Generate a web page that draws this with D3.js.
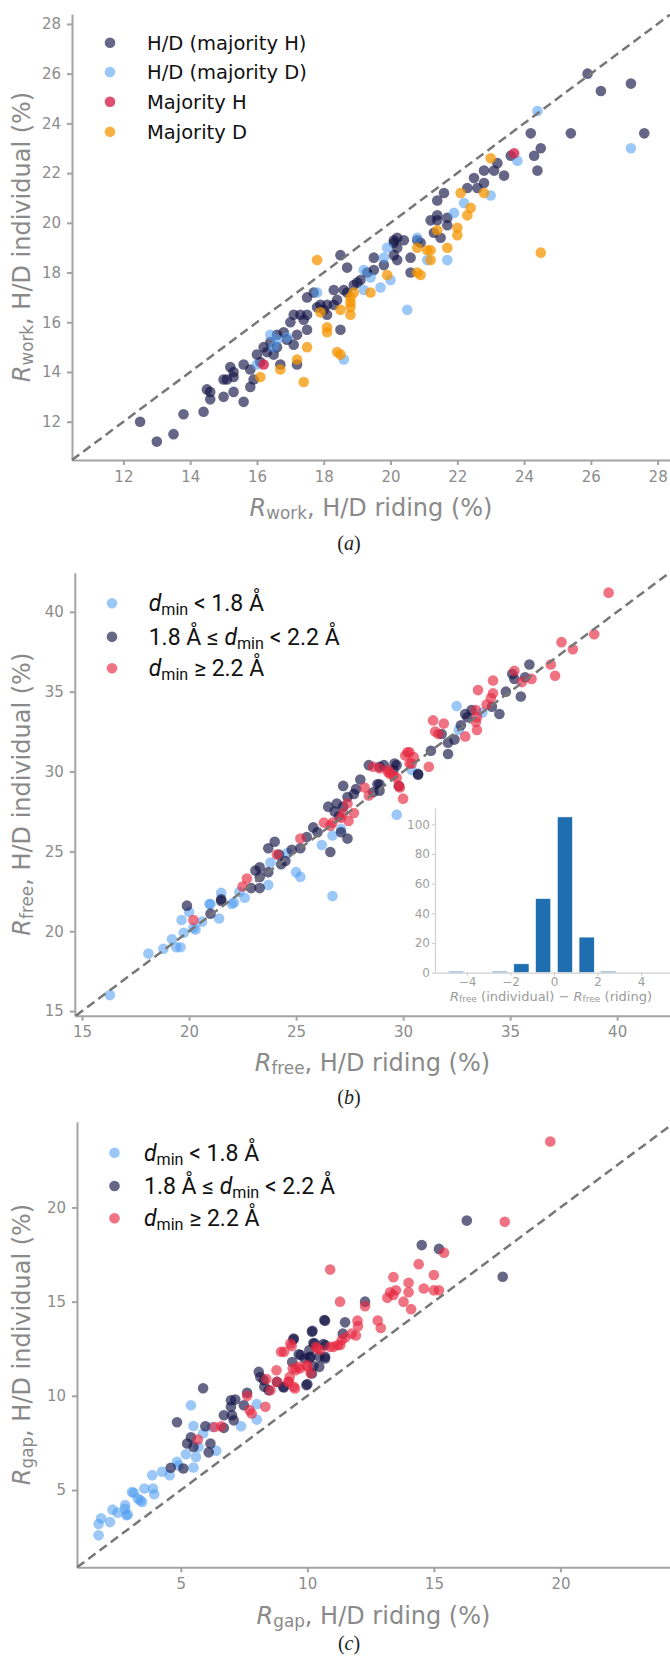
<!DOCTYPE html>
<meta charset="utf-8">
<head>
  <title>H/D riding vs individual</title>
</head>
<style>
body { margin: 0; background: #fff; }
text { white-space: pre; }
.axis path, .axis line { stroke: #a3a3a3; stroke-width: 2px; }
.axis text { fill: #8c8c8c; font-family: "DejaVu Sans", sans-serif; font-size: 15px; }
.inset path, .inset line { stroke: #cfcfcf; stroke-width: 1.2px; }
.inset text { fill: #a0a0a0; font-family: "DejaVu Sans", sans-serif; font-size: 12px; }
.diag { stroke: #777; stroke-width: 2.5px; stroke-dasharray: 9 5; fill: none; }
.alabel { fill: #8a8a8a; font-family: "DejaVu Sans", sans-serif; font-size: 24px; }
.legA { fill: #111; font-family: "DejaVu Sans", sans-serif; font-size: 19.5px; }
.legB { fill: #111; font-family: Roboto, sans-serif; font-size: 23px; }
.caption { fill: #222; font-family: "Liberation Serif", serif; font-size: 20px; }
</style>
<body>
  <svg width="670" height="1658"></svg>
  <script src="https://cdnjs.cloudflare.com/ajax/libs/d3/7.8.5/d3.min.js"></script>
  <script>
// ---- panel (a): R_work ----
var aTicks = [12, 14, 16, 18, 20, 22, 24, 26, 28];
var aMajH = [[12.5,12.0],[13.0,11.2],[13.5,11.5],[13.8,12.3],[14.4,12.4],[14.5,13.3],[14.6,12.9],[14.6,13.2],[15.0,13.0],[15.0,13.7],[15.1,13.7],[15.2,14.2],[15.3,14.0],[15.3,13.8],[15.3,13.2],[15.6,12.8],[15.6,14.3],[15.8,13.4],[15.9,13.7],[15.8,14.1],[16.0,14.7],[16.1,14.4],[16.3,14.8],[16.4,15.2],[16.5,14.7],[16.7,14.3],[16.8,15.6],[17.0,16.0],[17.1,15.1],[17.2,15.5],[17.2,14.3],[17.3,16.3],[17.5,16.3],[17.5,15.7],[17.5,17.0],[17.7,17.2],[17.9,16.7],[18.1,16.7],[18.1,16.3],[18.3,16.7],[18.5,18.7],[18.7,18.2],[18.3,17.3],[18.5,15.7],[18.7,17.2],[18.9,17.5],[19.1,17.7],[19.5,18.6],[19.5,18.1],[19.8,18.3],[20.1,19.2],[20.2,19.0],[20.1,18.7],[20.2,18.5],[20.2,19.4],[20.4,19.3],[20.1,19.3],[20.6,18.6],[20.6,18.0],[20.8,19.3],[20.9,19.2],[21.2,20.1],[21.4,20.3],[21.4,20.1],[21.7,20.2],[21.7,19.9],[21.3,19.6],[21.5,19.4],[21.4,20.9],[21.6,21.2],[22.3,21.4],[22.6,21.4],[22.8,21.6],[22.5,21.8],[22.8,22.1],[23.1,22.1],[23.2,22.4],[23.4,21.9],[23.6,22.7],[24.2,23.6],[24.5,23.0],[24.3,22.7],[24.4,22.1],[25.4,23.6],[25.9,26.0],[26.3,25.3],[27.2,25.6],[27.6,23.6],[16.6,15.0],[16.9,15.3],[17.1,16.3],[17.8,16.6],[18.0,16.5],[18.4,16.9],[18.6,17.3],[19.0,17.6],[19.3,18.0],[16.2,15.0],[16.6,15.5],[17.4,16.1]];
var aMajDmix = [[16.0,14.3],[16.4,15.5],[16.5,15.0],[16.9,15.4],[17.8,17.2],[18.6,14.5],[19.2,18.1],[19.2,17.3],[19.7,17.4],[19.8,18.6],[20.0,17.7],[19.9,19.0],[20.5,16.5],[20.8,19.4],[21.1,18.5],[21.7,18.5],[21.9,20.4],[22.2,20.8],[23.0,21.1],[23.8,22.5],[24.4,24.5],[27.2,23.0],[19.4,17.8],[16.6,15.3]];
var aOnlyH = [[16.2,14.3],[23.7,22.8]];
var aOnlyD = [[16.1,13.8],[16.7,14.1],[17.2,14.5],[17.4,13.6],[17.5,15.0],[17.8,18.5],[17.9,16.4],[18.1,15.8],[18.1,15.6],[18.5,16.5],[18.4,14.8],[18.5,14.7],[18.8,17.0],[18.8,16.8],[18.8,16.6],[18.8,16.3],[18.9,17.2],[19.4,17.2],[19.9,17.9],[20.8,18.0],[20.9,17.9],[20.8,19.0],[21.1,18.9],[21.2,18.9],[21.2,18.5],[21.4,19.7],[21.7,19.0],[22.0,19.8],[22.0,19.5],[22.3,20.3],[22.4,20.6],[22.1,21.2],[22.8,21.2],[23.0,22.6],[24.5,18.8]];

// ---- panel (b): R_free ----
var bTicksX = [15, 20, 25, 30, 35, 40];
var bTicksY = [15, 20, 25, 30, 35, 40];
var bLow = [[16.3,16.0],[18.1,18.6],[18.8,18.9],[19.2,19.5],[19.4,19.0],[19.65,20.7],[20.0,21.2],[19.75,19.9],[20.2,20.2],[20.6,20.6],[20.95,21.7],[21.4,20.8],[21.5,22.4],[22.0,21.7],[22.1,21.8],[22.35,22.45],[22.6,22.1],[23.7,22.9],[23.8,24.3],[24.6,24.9],[25.0,23.7],[25.2,23.4],[26.2,25.4],[26.7,22.2],[27.1,26.4],[26.7,26.0],[29.7,27.3],[30.4,30.1],[32.5,34.1],[33.7,33.7],[32.6,32.6],[20.3,20.1],[21.0,21.7],[19.6,19.0]];
var bMid = [[19.9,21.6],[21.0,21.1],[21.5,21.9],[21.5,22.0],[22.9,22.7],[23.3,22.7],[23.3,23.4],[23.1,23.8],[23.3,24.0],[23.7,23.7],[23.7,25.2],[24.0,25.6],[24.2,24.8],[24.5,24.4],[25.2,25.2],[25.5,25.9],[25.8,26.5],[26.6,24.96],[26.5,27.8],[26.8,27.5],[26.9,28.0],[27.2,27.8],[27.1,26.2],[27.4,25.8],[27.2,29.1],[27.4,28.4],[27.7,28.6],[27.8,28.9],[28.0,29.5],[28.6,28.7],[28.8,29.2],[28.9,28.8],[28.4,30.4],[29.1,30.4],[29.7,30.4],[29.8,29.1],[30.7,29.8],[28.9,30.3],[28.9,29.2],[29.6,30.5],[29.55,30.1],[30.7,29.85],[31.3,31.3],[31.8,32.35],[32.1,31.8],[32.1,31.1],[32.4,32.0],[32.7,32.9],[32.9,33.6],[33.0,33.4],[33.2,33.85],[34.15,34.06],[34.5,33.6],[34.8,35.0],[35.5,34.7],[35.1,36.1],[35.2,35.8],[35.7,35.9],[35.9,36.7],[24.3,24.2],[24.8,25.1],[26.0,26.2],[27.0,27.2]];
var bHigh = [[20.2,20.7],[22.5,22.8],[22.7,23.3],[24.1,24.8],[25.2,25.8],[26.3,26.8],[26.6,26.6],[26.7,26.8],[27.1,27.1],[27.2,27.4],[27.4,28.0],[27.7,27.4],[27.45,26.9],[28.2,29.0],[28.4,28.5],[28.6,30.3],[28.9,30.2],[29.3,29.96],[29.55,29.75],[29.85,29.0],[30.0,28.3],[30.3,30.5],[31.2,30.3],[29.3,30.1],[29.4,29.85],[29.7,29.6],[29.8,29.1],[30.2,31.2],[30.3,31.2],[30.1,31.0],[30.5,30.9],[30.4,30.5],[31.4,33.2],[31.9,33.0],[31.5,32.5],[31.65,32.35],[32.9,32.2],[33.45,33.4],[33.4,33.1],[33.45,32.6],[33.4,33.85],[33.9,34.2],[34.1,34.6],[34.2,34.9],[34.2,35.7],[33.5,35.1],[35.2,36.3],[35.55,35.6],[36.0,35.8],[36.9,36.7],[37.1,36.0],[37.4,38.1],[37.93,37.66],[38.93,38.6],[39.6,41.2]];

// inset histogram of R_free(individual) - R_free(riding)
var histEdges = [-5, -4, -3, -2, -1, 0, 1, 2, 3];
var histCounts = [1, 0, 1, 6, 50, 105, 24, 1];
var histTicksX = [-4, -2, 0, 2, 4];
var histTicksY = [0, 20, 40, 60, 80, 100];

// ---- panel (c): R_gap ----
var cTicks = [5, 10, 15, 20];
var cLow = [[1.75,2.6],[1.75,3.2],[1.85,3.5],[2.2,3.3],[2.3,3.96],[2.5,3.8],[2.8,4.2],[2.85,3.66],[2.8,4.0],[3.07,4.9],[3.14,4.85],[3.3,4.55],[3.47,4.37],[3.56,5.08],[3.9,5.08],[3.95,4.78],[3.87,5.79],[4.26,5.97],[4.56,5.79],[4.85,6.5],[4.9,6.3],[5.2,6.9],[5.5,6.2],[5.6,6.76],[5.4,9.5],[5.5,8.4],[5.7,7.29],[5.88,8.0],[6.4,7.08],[6.23,8.35],[7.38,8.39],[8.0,9.56],[8.0,8.74],[3.4,4.45],[2.9,3.7]];
var cMid = [[4.6,6.18],[5.1,6.14],[4.85,8.6],[5.88,10.4],[5.97,8.39],[5.4,7.8],[5.25,7.47],[5.5,7.29],[6.17,7.47],[6.1,7.0],[6.7,8.97],[6.7,8.3],[6.98,9.77],[7.15,9.8],[6.98,9.42],[7.09,8.7],[7.02,8.97],[7.49,9.5],[7.62,10.16],[8.08,11.27],[8.14,11.0],[8.28,10.83],[8.3,10.48],[8.47,10.3],[8.8,10.74],[9.07,10.44],[9.4,11.8],[9.46,13.04],[9.66,12.21],[9.96,10.57],[10.12,12.07],[10.18,13.4],[10.28,12.78],[10.67,14.02],[10.7,12.69],[10.7,12.07],[10.18,11.19],[10.7,13.99],[11.49,13.9],[11.4,13.3],[10.2,13.45],[9.45,12.99],[10.24,12.8],[10.63,12.75],[10.47,12.07],[10.7,11.98],[9.74,12.16],[9.9,11.98],[10.1,12.04],[10.08,12.43],[10.24,11.58],[10.47,11.54],[10.0,10.62],[9.05,10.48],[12.28,15.0],[14.52,18.0],[15.2,17.8],[16.3,19.3],[17.72,16.32]];
var cHigh = [[5.67,7.68],[6.33,8.35],[6.59,8.39],[7.62,10.0],[7.72,9.24],[7.8,9.06],[8.38,10.89],[8.34,9.42],[8.54,10.3],[8.78,11.36],[8.8,10.74],[8.96,12.34],[9.33,12.78],[9.26,10.74],[9.46,10.48],[9.7,11.45],[9.99,11.63],[10.38,12.51],[11.04,12.6],[11.3,12.7],[9.53,11.36],[10.9,16.7],[11.29,15.0],[12.28,14.76],[11.98,13.99],[12.0,13.7],[11.92,13.2],[11.75,13.3],[12.78,14.0],[12.9,13.6],[10.9,12.6],[11.2,12.7],[11.36,12.96],[11.5,13.1],[10.34,12.6],[10.5,12.43],[9.38,12.64],[9.08,12.34],[9.64,11.54],[9.42,11.45],[10.0,11.54],[10.13,11.2],[9.51,10.39],[9.25,10.75],[9.3,11.0],[13.4,16.3],[14.0,16.0],[13.5,15.6],[13.27,15.5],[13.16,15.2],[13.4,15.35],[14.0,15.5],[14.6,15.7],[15.0,15.6],[15.2,15.6],[13.8,15.0],[14.1,14.6],[14.4,16.99],[15.0,16.41],[15.4,17.6],[17.8,19.24],[19.6,23.5]];

var NAVY = 'rgb(20,20,70)', SKY = 'rgb(74,154,240)', RED = 'rgb(230,40,65)', ORANGE = 'rgb(245,150,0)';

var svg = d3.select('svg');

// writes text made of parts: {t, it, sub}
function rich(sel, parts, shift) {
  var down = 0;
  parts.forEach(function(p) {
    var ts = sel.append('tspan').text(p.t);
    if (p.it) ts.style('font-style', 'italic');
    if (p.sub) { ts.attr('font-size', '70%').attr('dy', shift); down = shift; }
    else if (down) { ts.attr('dy', -down); down = 0; }
  });
}

function panel(cfg) {
  var g = svg.append('g');
  var x = d3.scaleLinear().domain(cfg.xDomain).range([cfg.left, cfg.right]);
  var y = d3.scaleLinear().domain(cfg.yDomain).range([cfg.bottom, cfg.top]);

  g.append('g').attr('class', 'axis').attr('transform', 'translate(0,' + cfg.bottom + ')')
    .call(d3.axisBottom(x).tickValues(cfg.xTicks).tickSize(5).tickSizeOuter(0).tickPadding(6));
  g.append('g').attr('class', 'axis').attr('transform', 'translate(' + cfg.left + ',0)')
    .call(d3.axisLeft(y).tickValues(cfg.yTicks).tickSize(5).tickSizeOuter(0).tickPadding(6));

  cfg.series.forEach(function(s) {
    g.append('g').selectAll('circle')
      .data(s.values)
      .join('circle')
      .attr('cx', function(d) { return x(d[0]); })
      .attr('cy', function(d) { return y(d[1]); })
      .attr('r', 5.3)
      .attr('fill', s.color)
      .attr('fill-opacity', s.alpha);
  });

  var lo = Math.max(cfg.xDomain[0], cfg.yDomain[0]);
  var hi = Math.min(cfg.xDomain[1], cfg.yDomain[1]);
  g.append('line').attr('class', 'diag')
    .attr('x1', x(lo)).attr('y1', y(lo))
    .attr('x2', x(hi)).attr('y2', y(hi));

  // legend
  cfg.series.slice().sort(function(a, b) { return a.row - b.row; }).forEach(function(s, i) {
    var ly = cfg.legY[i];
    g.append('circle').attr('cx', cfg.legX).attr('cy', ly).attr('r', 5.3)
      .attr('fill', s.color).attr('fill-opacity', s.alpha);
    var t = g.append('text').attr('class', cfg.legClass)
      .attr('x', cfg.legTextX).attr('y', ly).attr('dominant-baseline', 'central');
    rich(t, s.label, 6);
  });

  // axis labels
  var xl = g.append('text').attr('class', 'alabel').attr('text-anchor', 'middle')
    .attr('x', (cfg.left + cfg.right) / 2).attr('y', cfg.xLabelY).attr('dominant-baseline', 'central');
  rich(xl, [{t: 'R', it: true}, {t: cfg.sub, sub: true}, {t: ', H/D riding (%)'}], 5);
  var yl = g.append('text').attr('class', 'alabel').attr('text-anchor', 'middle')
    .attr('transform', 'translate(22,' + (cfg.top + cfg.bottom) / 2 + ') rotate(-90)')
    .attr('dominant-baseline', 'central');
  rich(yl, [{t: 'R', it: true}, {t: cfg.sub, sub: true}, {t: ', H/D individual (%)'}], 5);

  var cap = g.append('text').attr('class', 'caption').attr('text-anchor', 'middle')
    .attr('x', 349).attr('y', cfg.capY).attr('dominant-baseline', 'central');
  cap.append('tspan').text('(');
  cap.append('tspan').style('font-style', 'italic').text(cfg.cap);
  cap.append('tspan').text(')');
  return g;
}

var dLow = [{t: 'd', it: true}, {t: 'min', sub: true}, {t: ' < 1.8 Å'}];
var dMid = [{t: '1.8 Å ≤ '}, {t: 'd', it: true}, {t: 'min', sub: true}, {t: ' < 2.2 Å'}];
var dHigh = [{t: 'd', it: true}, {t: 'min', sub: true}, {t: ' ≥ 2.2 Å'}];

panel({
  left: 72, right: 670, top: 14, bottom: 460,
  xDomain: [10.46, 28.37], yDomain: [10.46, 28.4],
  xTicks: aTicks, yTicks: aTicks, sub: 'work',
  xLabelY: 508, capY: 543, cap: 'a',
  legX: 110, legTextX: 147, legY: [42.7, 72, 101.7, 131.7], legClass: 'legA',
  series: [
    {values: aMajH, color: NAVY, alpha: 0.65, row: 0, label: [{t: 'H/D (majority H)'}]},
    {values: aMajDmix, color: SKY, alpha: 0.55, row: 1, label: [{t: 'H/D (majority D)'}]},
    {values: aOnlyH, color: 'rgb(215,35,75)', alpha: 0.8, row: 2, label: [{t: 'Majority H'}]},
    {values: aOnlyD, color: ORANGE, alpha: 0.75, row: 3, label: [{t: 'Majority D'}]}
  ]
});

panel({
  left: 74.8, right: 670, top: 572.7, bottom: 1015.7,
  xDomain: [14.66, 42.47], yDomain: [14.71, 42.45],
  xTicks: bTicksX, yTicks: bTicksY, sub: 'free',
  xLabelY: 1063, capY: 1097, cap: 'b',
  legX: 112, legTextX: 148.7, legY: [603.3, 636.7, 668.3], legClass: 'legB',
  series: [
    {values: bLow, color: SKY, alpha: 0.55, row: 0, label: dLow},
    {values: bMid, color: NAVY, alpha: 0.65, row: 1, label: dMid},
    {values: bHigh, color: RED, alpha: 0.65, row: 2, label: dHigh}
  ]
});

panel({
  left: 77, right: 670, top: 1121.7, bottom: 1567.3,
  xDomain: [0.897, 24.33], yDomain: [0.9, 24.55],
  xTicks: cTicks, yTicks: cTicks, sub: 'gap',
  xLabelY: 1616, capY: 1643, cap: 'c',
  legX: 114.5, legTextX: 144, legY: [1152.7, 1186, 1218.3], legClass: 'legB',
  series: [
    {values: cLow, color: SKY, alpha: 0.55, row: 0, label: dLow},
    {values: cMid, color: NAVY, alpha: 0.65, row: 1, label: dMid},
    {values: cHigh, color: RED, alpha: 0.65, row: 2, label: dHigh}
  ]
});

// inset histogram in panel (b)
var hx = d3.scaleLinear().domain([-5.47, 5.33]).range([435, 670]);
var hy = d3.scaleLinear().domain([0, 111]).range([972.7, 808]);
var inset = svg.append('g');
inset.append('rect').attr('x', 435).attr('y', 808).attr('width', 235).attr('height', 164.7).attr('fill', '#fff');
inset.append('g').selectAll('rect')
  .data(histCounts)
  .join('rect')
  .attr('x', function(d, i) { return hx(histEdges[i] + 0.15); })
  .attr('width', function(d, i) { return hx(histEdges[i + 1] - 0.15) - hx(histEdges[i] + 0.15); })
  .attr('y', function(d) { return hy(d); })
  .attr('height', function(d) { return hy(0) - hy(d); })
  .attr('fill', '#1f6fb0')
  .attr('stroke', '#fff').attr('stroke-width', 0.6);
inset.append('g').attr('class', 'inset').attr('transform', 'translate(0,972.7)')
  .call(d3.axisBottom(hx).tickValues(histTicksX).tickSize(3).tickSizeOuter(0).tickPadding(2)
    .tickFormat(function(d) { return d < 0 ? '\u2212' + Math.abs(d) : d; }));
inset.append('g').attr('class', 'inset').attr('transform', 'translate(435,0)')
  .call(d3.axisLeft(hy).tickValues(histTicksY).tickSize(3).tickSizeOuter(0).tickPadding(2));
var il = inset.append('text').attr('x', 551).attr('y', 996).attr('text-anchor', 'middle')
  .attr('dominant-baseline', 'central')
  .style('font-family', '"DejaVu Sans", sans-serif').style('font-size', '13px').style('fill', '#9a9a9a');
rich(il, [{t: 'R', it: true}, {t: 'free', sub: true}, {t: ' (individual) \u2212 '}, {t: 'R', it: true}, {t: 'free', sub: true}, {t: ' (riding)'}], 3);
  </script>
</body>
